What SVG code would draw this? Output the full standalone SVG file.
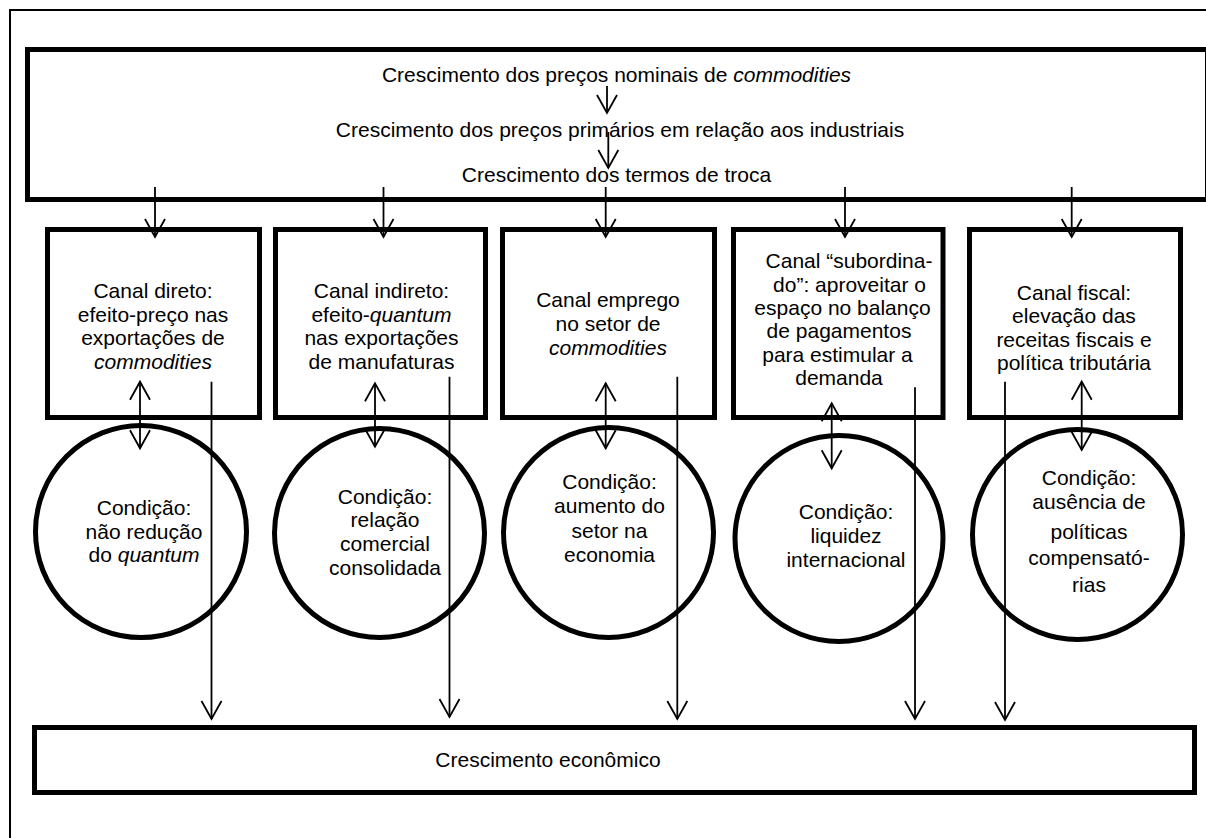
<svg xmlns="http://www.w3.org/2000/svg" width="1206" height="838" viewBox="0 0 1206 838">
<defs>
<style>
.t{font-family:"Liberation Sans",Arial,sans-serif;font-size:21px;fill:#000;text-anchor:middle}
.i{font-style:italic}
.box{fill:none;stroke:#000;stroke-width:5}
.frame{fill:none;stroke:#000;stroke-width:2}
.c{fill:none;stroke:#000;stroke-width:1.8}
</style>
<marker id="v" markerUnits="userSpaceOnUse" viewBox="-2 -2 24 24" markerWidth="24" markerHeight="24" refX="18" refY="10" orient="auto-start-reverse" overflow="visible">
<path d="M0,0 L18,10 L0,20" fill="none" stroke="#000" stroke-width="1.8"/>
</marker>
</defs>
<rect width="1206" height="838" fill="#fff"/>
<g id="frame">
<path class="frame" d="M9,10 H1206 M10,9 V838"/>
</g>
<g id="top">
<rect class="box" x="27.5" y="49.5" width="1180" height="150"/>
<text class="t" x="616.5" y="82">Crescimento dos preços nominais de <tspan class="i">commodities</tspan></text>
<text class="t" x="620" y="137">Crescimento dos preços primários em relação aos industriais</text>
<text class="t" x="616.5" y="182">Crescimento dos termos de troca</text>
</g>
<g id="canal1">
<rect class="box" x="47.5" y="229.5" width="212" height="188"/>
<text class="t"><tspan x="153" y="298">Canal direto:</tspan><tspan x="153" y="321.5">efeito-preço nas</tspan><tspan x="153" y="345">exportações de</tspan><tspan x="153" y="368.5" class="i">commodities</tspan></text>
</g>
<g id="canal2">
<rect class="box" x="275.5" y="229.5" width="210" height="188"/>
<text class="t"><tspan x="381.5" y="298">Canal indireto:</tspan><tspan x="381.5" y="321.5">efeito-<tspan class="i">quantum</tspan></tspan><tspan x="381.5" y="345">nas exportações</tspan><tspan x="381.5" y="368.5">de manufaturas</tspan></text>
</g>
<g id="canal3">
<rect class="box" x="502.5" y="229.5" width="212" height="188"/>
<text class="t"><tspan x="608" y="307">Canal emprego</tspan><tspan x="608" y="331">no setor de</tspan><tspan x="608" y="355" class="i">commodities</tspan></text>
</g>
<g id="canal4">
<rect class="box" x="733.5" y="229.5" width="209.5" height="188"/>
<text class="t"><tspan x="849" y="268.3">Canal “subordina-</tspan><tspan x="849.5" y="291.7">do”: aproveitar o</tspan><tspan x="842.5" y="315">espaço no balanço</tspan><tspan x="839" y="338.3">de pagamentos</tspan><tspan x="837.5" y="361.7">para estimular a</tspan><tspan x="839" y="385">demanda</tspan></text>
</g>
<g id="canal5">
<rect class="box" x="969.5" y="229.5" width="211" height="188"/>
<text class="t"><tspan x="1074" y="300">Canal fiscal:</tspan><tspan x="1074" y="323.3">elevação das</tspan><tspan x="1074" y="346.7">receitas fiscais e</tspan><tspan x="1074" y="370">política tributária</tspan></text>
</g>
<g id="cond1">
<ellipse class="box" cx="141" cy="531.5" rx="105.5" ry="106"/>
<text class="t"><tspan x="144" y="515">Condição:</tspan><tspan x="144" y="538.5">não redução</tspan><tspan x="144" y="562">do <tspan class="i">quantum</tspan></tspan></text>
</g>
<g id="cond2">
<ellipse class="box" cx="379.5" cy="533" rx="105" ry="104.5"/>
<text class="t"><tspan x="385" y="503.5">Condição:</tspan><tspan x="385" y="527">relação</tspan><tspan x="385" y="551">comercial</tspan><tspan x="385" y="575">consolidada</tspan></text>
</g>
<g id="cond3">
<ellipse class="box" cx="608.5" cy="532.5" rx="105" ry="105"/>
<text class="t"><tspan x="609.5" y="489">Condição:</tspan><tspan x="609.5" y="513">aumento do</tspan><tspan x="609.5" y="537.5">setor na</tspan><tspan x="609.5" y="562">economia</tspan></text>
</g>
<g id="cond4">
<ellipse class="box" cx="839" cy="538.5" rx="104" ry="103"/>
<text class="t"><tspan x="846" y="519">Condição:</tspan><tspan x="846" y="543">liquidez</tspan><tspan x="846" y="567">internacional</tspan></text>
</g>
<g id="cond5">
<ellipse class="box" cx="1077.5" cy="534.5" rx="105" ry="105"/>
<text class="t"><tspan x="1089" y="485">Condição:</tspan><tspan x="1089" y="508.5">ausência de</tspan><tspan x="1089" y="539">políticas</tspan><tspan x="1089" y="565">compensató-</tspan><tspan x="1089" y="592">rias</tspan></text>
</g>
<g id="growth">
<rect class="box" x="34.5" y="727.5" width="1160" height="65"/>
<text class="t" x="548" y="767">Crescimento econômico</text>
</g>
<g id="connectors">
<path class="c" d="M607,86 V113" marker-end="url(#v)"/>
<path class="c" d="M608.3,132 V168" marker-end="url(#v)"/>
<path class="c" d="M155,187 V237" marker-end="url(#v)"/>
<path class="c" d="M383.5,187 V237" marker-end="url(#v)"/>
<path class="c" d="M605.7,187 V237" marker-end="url(#v)"/>
<path class="c" d="M845,187 V237" marker-end="url(#v)"/>
<path class="c" d="M1071.7,187 V237" marker-end="url(#v)"/>
<path class="c" d="M140,381.7 V448.3" marker-start="url(#v)" marker-end="url(#v)"/>
<path class="c" d="M375,383.3 V446.7" marker-start="url(#v)" marker-end="url(#v)"/>
<path class="c" d="M605.7,383.3 V448.3" marker-start="url(#v)" marker-end="url(#v)"/>
<path class="c" d="M831.7,403.3 V468.3" marker-start="url(#v)" marker-end="url(#v)"/>
<path class="c" d="M1081.7,381.7 V450" marker-start="url(#v)" marker-end="url(#v)"/>
<path class="c" d="M211.5,381.7 V719" marker-end="url(#v)"/>
<path class="c" d="M449.5,376.7 V717" marker-end="url(#v)"/>
<path class="c" d="M677.3,376.7 V719" marker-end="url(#v)"/>
<path class="c" d="M915,387.3 V719" marker-end="url(#v)"/>
<path class="c" d="M1005,381.7 V720" marker-end="url(#v)"/>
</g>
</svg>
